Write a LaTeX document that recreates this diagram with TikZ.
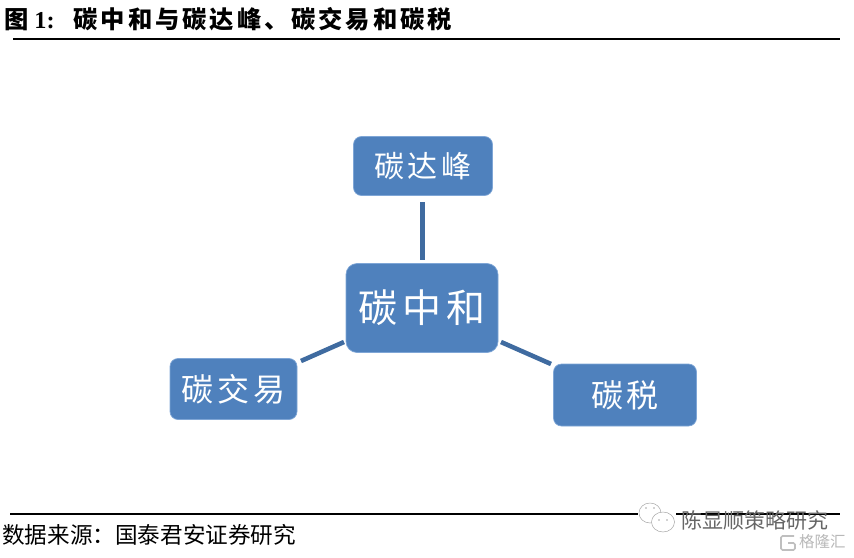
\documentclass[tikz,border=0pt]{standalone}
\usepackage{fontspec}
\setmainfont{Liberation Serif}
\newfontfamily\cjk{Noto Sans CJK SC}
\newfontfamily\cjkwide[LetterSpace=12]{Noto Sans CJK SC}
\usetikzlibrary{positioning}
\definecolor{boxblue}{HTML}{4F81BD}
\definecolor{boxedge}{HTML}{7FA6D6}
\definecolor{linkblue}{HTML}{3F6BA0}
\tikzset{
  termbox/.style={draw=boxedge,fill=boxblue,rounded corners=8pt,text=white,inner sep=0pt,line width=0.7pt},
  termlink/.style={draw=linkblue,line width=4.6pt},
  rulefull/.style={draw=black,line width=1.1pt},
  markline/.style={draw=black!35,fill=white,line width=0.5pt},
  markeye/.style={fill=black!35}
}
\begin{document}
\begin{tikzpicture}[x=1pt,y=-1pt]
  \useasboundingbox (0,0) rectangle (854,557);
  \node[anchor=west,inner sep=0pt,font=\bfseries\fontsize{24.3}{24.3}\selectfont] (title) at (4,19) {{\cjk 图}\hspace{6pt}1:\hspace{19pt}{\cjkwide 碳中和与碳达峰、碳交易和碳税}};
  \coordinate (ruleA) at (13,39);
  \coordinate (ruleB) at (840,39);
  \draw[rulefull] (ruleA) -- (ruleB);

  % boxes
  \node[termbox,minimum width=139pt,minimum height=59pt,font=\cjkwide\fontsize{30}{30}\selectfont] (peak) at (423,166) {\raisebox{3pt}{碳达峰}};
  \node[termbox,minimum width=152pt,minimum height=89pt,rounded corners=11pt,font=\cjkwide\fontsize{39}{39}\selectfont] (neutral) at (422,308) {\raisebox{3pt}{碳中和}};
  \node[termbox,minimum width=127pt,minimum height=61pt,font=\cjkwide\fontsize{32}{32}\selectfont] (trade) at (233.5,389) {碳交易};
  \node[termbox,minimum width=143pt,minimum height=62pt,font=\cjkwide\fontsize{32}{32}\selectfont] (tax) at (625,395) {\raisebox{2pt}{碳税}};

  % links
  \draw[termlink] (422.5,202) -- (422.5,260);
  \draw[termlink] (301,361) -- (344,342);
  \draw[termlink] (501,342) -- (551,364);

  % bottom
  \coordinate (ruleC) at (10,514);
  \coordinate (ruleD) at (840,514);
  \draw[rulefull] (ruleC) -- (ruleD);
  \node[anchor=west,inner sep=0pt,font=\cjk\fontsize{22.6}{22.6}\selectfont] (source) at (2,535) {数据来源：国泰君安证券研究};

  % watermark
  \fill[white] (638,503) rectangle (676,534);
  \draw[markline] (650,513) ellipse (11 and 10);
  \draw[markline] (663,522) ellipse (11.5 and 10);
  \foreach \ex/\ey in {646/508, 654/508, 659/520, 667/520} {
    \fill[markeye] (\ex,\ey) circle (0.9);
  }
  \node[anchor=west,inner sep=0pt,text=black!60,font=\cjk\fontsize{21}{21}\selectfont] (mark) at (681,520) {陈显顺策略研究};
  \draw[draw=black!25,rounded corners=1.5pt,line width=1.6pt] (794,536) -- (781,536) -- (781,550) -- (795,550) -- (795,543) -- (788,543);
  \node[anchor=west,inner sep=0pt,text=black!28,font=\cjk\fontsize{15.5}{15.5}\selectfont] (mark2) at (799,542) {格隆汇};
\end{tikzpicture}
\end{document}
